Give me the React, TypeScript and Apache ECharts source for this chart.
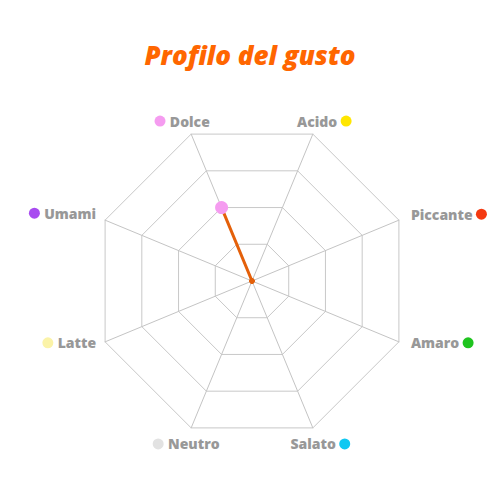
import React, { useEffect, useRef } from 'react';
import * as echarts from 'echarts';

// indicators in ECharts radar order (counter-clockwise from the top-left vertex)
const tastes = ['Dolce', 'Umami', 'Latte', 'Neutro', 'Salato', 'Amaro', 'Piccante', 'Acido'];
const tasteColors = ['#f59cf0', '#a84bf0', '#fbf3a8', '#e2e2e2', '#10c8f2', '#1fc41f', '#f43a12', '#ffe600'];
const values = [2, 0, 0, 0, 0, 0, 0, 0];
const maxValue = 4;

// label layout around each vertex: dot side, alignment, offset from the vertex
const dotBefore = [true, true, true, true, false, false, false, false];
const labelAlign = ['center', 'right', 'right', 'center', 'center', 'left', 'left', 'center'];
const labelOffset = [[-9, -13], [-9, -7], [-9, 1], [-5, 16], [7, 16], [11, 1], [11, -6], [11, -13]];

const App: React.FC = () => {
	const chartRef = useRef<HTMLDivElement>(null);

	useEffect(() => {
		if (!chartRef.current) return;
		document.body.style.margin = '0';
		const chart = echarts.init(chartRef.current, null, { renderer: 'svg' });

		const rich: Record<string, any> = {
			n: { color: '#989898', fontSize: 14, fontWeight: 800, fontFamily: 'Open Sans', padding: [0, 0, 0, 1] }
		};
		tasteColors.forEach((c, i) => {
			rich['d' + i] = { width: 11, height: 11, borderRadius: 6, backgroundColor: c, opacity: 1 };
		});

		const center = [252, 281];
		const radius = 159;

		const option: echarts.EChartsOption = {
			animation: false,
			backgroundColor: '#ffffff',
			title: {
				text: 'Profilo del gusto',
				left: 'center',
				top: 37,
				textStyle: {
					color: '#ff6600',
					fontSize: 26,
					fontWeight: 800,
					fontStyle: 'italic',
					fontFamily: 'Open Sans'
				}
			},
			radar: {
				center,
				radius,
				startAngle: 112.5,
				splitNumber: 4,
				shape: 'polygon',
				indicator: tastes.map(name => ({ name, max: maxValue })),
				axisName: { show: false },
				axisLine: { lineStyle: { color: '#c4c4c4', width: 1 } },
				splitLine: { lineStyle: { color: '#c8c8c8', width: 1 } },
				splitArea: { show: false }
			},
			polar: { center, radius },
			angleAxis: {
				type: 'category',
				data: tastes,
				startAngle: 112.5,
				clockwise: false,
				boundaryGap: false,
				show: false
			},
			radiusAxis: { min: 0, max: maxValue, show: false },
			series: [
				{
					type: 'radar',
					symbol: 'circle',
					symbolSize: 5,
					itemStyle: { color: '#e4600a' },
					lineStyle: { color: '#e4600a', width: 3 },
					data: [{ value: values, name: 'Profilo' }]
				},
				{
					type: 'scatter',
					coordinateSystem: 'polar',
					symbolSize: 13,
					itemStyle: { opacity: 1 },
					data: values
						.map((v, i) => ({ value: [v, tastes[i]], itemStyle: { color: tasteColors[i], opacity: 1 } }))
						.filter((_, i) => values[i] > 0)
				},
				{
					// indicator names with their coloured dots, placed at the vertices
					type: 'scatter',
					coordinateSystem: 'polar',
					symbolSize: 0,
					silent: true,
					itemStyle: { opacity: 1 },
					data: tastes.map((name, i) => ({
						value: [maxValue, name],
						label: {
							show: true,
							position: 'inside',
							align: labelAlign[i],
							verticalAlign: 'middle',
							offset: labelOffset[i],
							opacity: 1,
							formatter: dotBefore[i] ? `{d${i}|} {n|${name}}` : `{n|${name}} {d${i}|}`,
							rich
						}
					}))
				}
			]
		};

		chart.setOption(option);

		return () => {
			chart.dispose();
		};
	}, []);

	return <div ref={chartRef} style={{ width: '500px', height: '500px' }} />;
};

export default App;
